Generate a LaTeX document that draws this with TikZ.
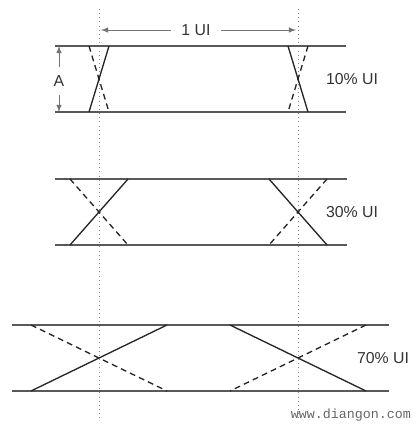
\documentclass[tikz,border=0pt]{standalone}
\usepackage{fontspec}
\setmainfont{Liberation Sans}
\newfontfamily\wmfont{Liberation Mono}
\begin{document}
\begin{tikzpicture}[x=0.6pt,y=-0.6pt,
	rail/.style={draw=black!65,line width=0.8pt},
	edge/.style={draw=black!85,line width=0.8pt},
	ghost/.style={edge,dash pattern=on 3.5pt off 2.5pt},
	guide/.style={draw=black!45,dotted,line width=0.5pt},
	dim/.style={draw=black!55,line width=0.5pt,-latex},
	lbl/.style={font=\fontsize{9.5}{11}\selectfont,text=black!80}]
	\useasboundingbox (0,0) rectangle (417,428);
	% Hilfslinien
	\draw[guide] (99,9) -- (99,418);
	\draw[guide] (298,9) -- (298,418);
	% 1 UI
	\node[lbl,inner xsep=6pt] (ui) at (196,30) {1 UI};
	\coordinate (uil) at (101,30);
	\coordinate (uir) at (296,30);
	\draw[dim] (ui) -- (uil);
	\draw[dim] (ui) -- (uir);
	% Amplitude
	\node[lbl,inner ysep=5pt] (amp) at (59,81) {A};
	\coordinate (ampt) at (59,46);
	\coordinate (ampb) at (59,112);
	\draw[dim] (amp) -- (ampt);
	\draw[dim] (amp) -- (ampb);
	% Flanken
	\foreach \yt/\yb/\xl/\xr/\w/\pct/\xp in {46/112/55/346/10/10/352, 179/245/55/347/29/30/352, 325/391/12/389/68/70/383}{
		\draw[rail] (\xl,\yt) -- (\xr,\yt);
		\draw[rail] (\xl,\yb) -- (\xr,\yb);
		\draw[edge] (99-\w,\yb) -- (99+\w,\yt);
		\draw[ghost] (99-\w,\yt) -- (99+\w,\yb);
		\draw[edge] (298-\w,\yt) -- (298+\w,\yb);
		\draw[ghost] (298+\w,\yt) -- (298-\w,\yb);
		\node[lbl] (pct\pct) at (\xp,{(\yt+\yb)/2}) {\pct\% UI};
	}
	\node[font=\wmfont\fontsize{8}{9}\selectfont,text=black!60] (wm) at (351,415) {www.diangon.com};
\end{tikzpicture}
\end{document}
